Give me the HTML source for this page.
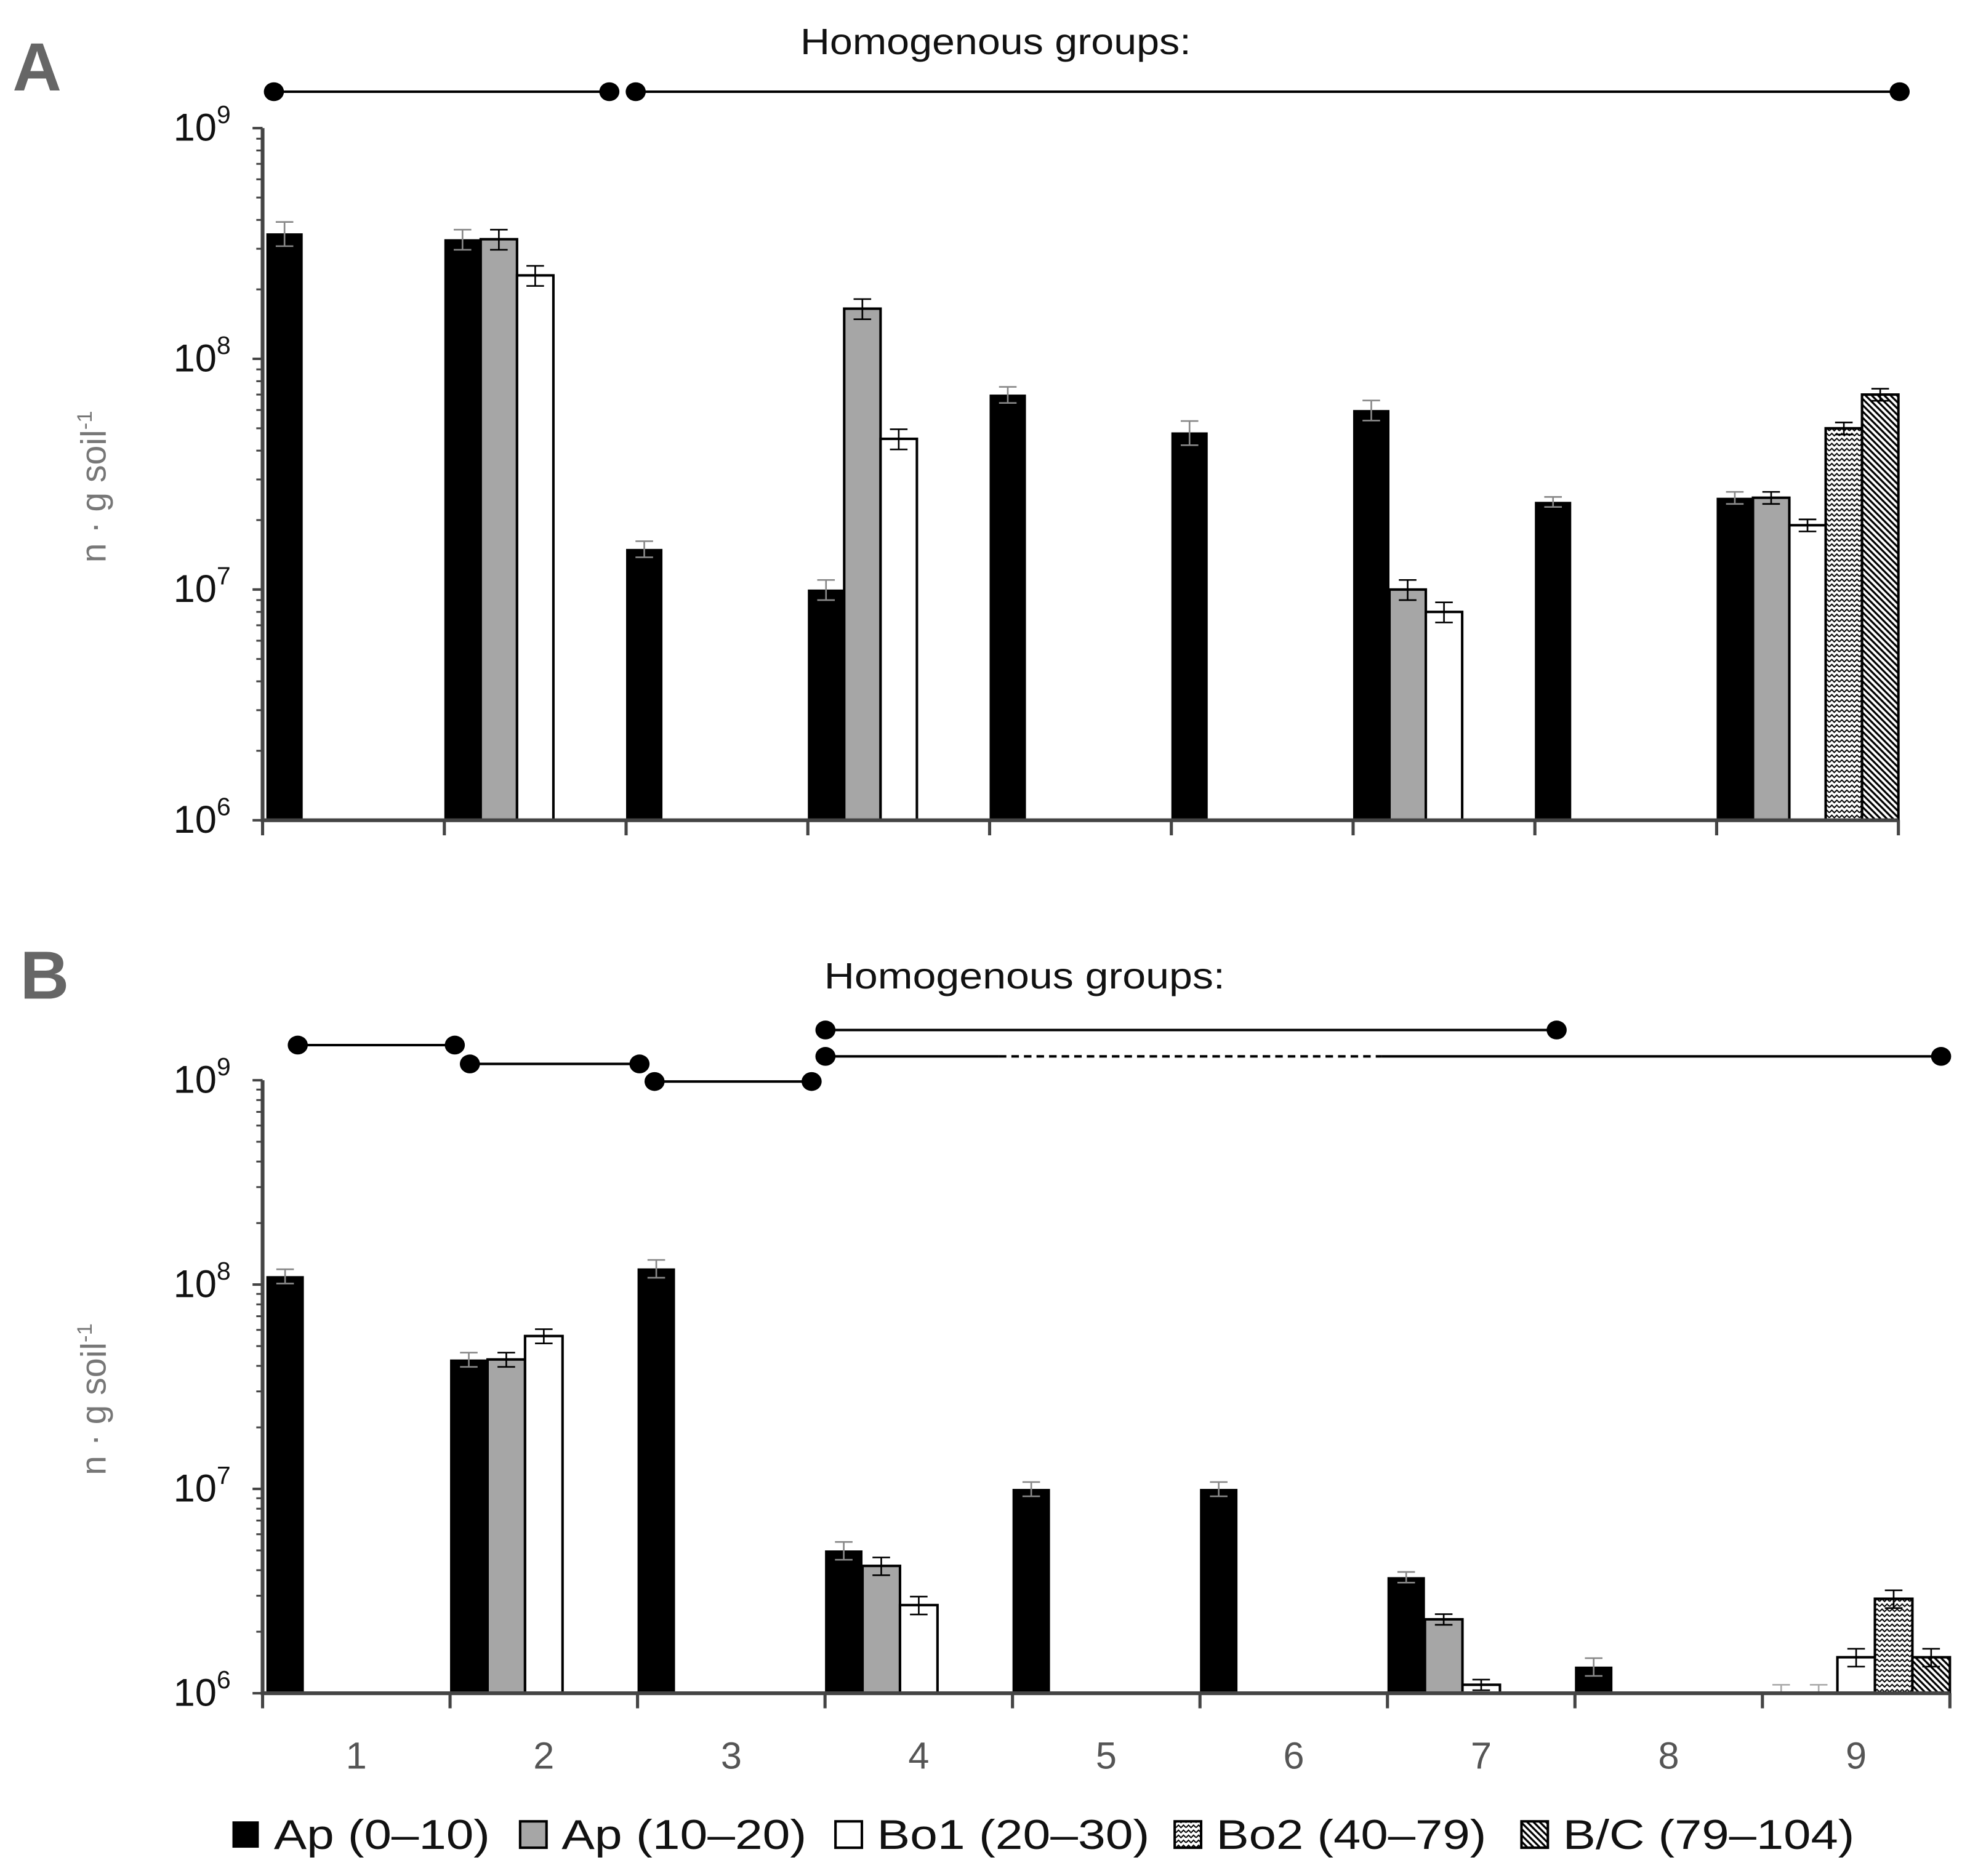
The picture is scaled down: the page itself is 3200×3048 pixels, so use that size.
<!DOCTYPE html>
<html><head><meta charset="utf-8">
<style>
html,body{margin:0;padding:0;background:#fff;}
svg{display:block;}
text{font-family:"Liberation Sans","DejaVu Sans",sans-serif;}
</style></head>
<body>
<svg id="chart" width="3200" height="3048" viewBox="0 0 1568 1493.5" xmlns="http://www.w3.org/2000/svg">
<defs>
<pattern id="zig" width="8" height="8" patternUnits="userSpaceOnUse">
<rect width="8" height="8" fill="#fff"/>
<path d="M0 3 L2 1 L4 3 L6 1 L8 3 M0 7 L2 5 L4 7 L6 5 L8 7" stroke="#000" stroke-width="1" fill="none"/>
</pattern>
<pattern id="diag" width="5" height="5" patternUnits="userSpaceOnUse">
<rect width="5" height="5" fill="#fff"/>
<path d="M-1 -1 L6 6 M-1 4 L1 6 M4 -1 L6 1" stroke="#000" stroke-width="1.6"/>
</pattern>
</defs>
<g id="root"></g>
</svg>
<script>
const groups = ["1","2","3","4","5","6","7","8","9"];
const seriesNames = ["Ap (0–10)","Ap (10–20)","Bo1 (20–30)","Bo2 (40–79)","B/C (79–104)"];
// Panel A values (null = no bar)
const aAp010 = [3.5e8,3.3e8,1.5e7,1.0e7,7.0e7,4.8e7,6.0e7,2.4e7,2.5e7];
const aAp1020 = [null,3.3e8,null,1.65e8,null,null,1.0e7,null,2.5e7];
const aBo1 = [null,2.3e8,null,4.5e7,null,null,8.0e6,null,1.9e7];
const aBo2 = [null,null,null,null,null,null,null,null,5.0e7];
const aBC = [null,null,null,null,null,null,null,null,7.0e7];
const aErr = [0.12,0.1,0.08,0.1,0.08,0.12,0.1,0.05,0.06];
// Panel B values
const bAp010 = [1.1e8,4.3e7,1.2e8,5.0e6,1.0e7,1.0e7,3.7e6,1.35e6,1.0e6];
const bAp1020 = [null,4.3e7,null,4.2e6,null,null,2.3e6,null,1.0e6];
const bBo1 = [null,5.6e7,null,2.7e6,null,null,1.1e6,null,1.5e6];
const bBo2 = [null,null,null,null,null,null,null,null,2.9e6];
const bBC = [null,null,null,null,null,null,null,null,1.5e6];
const bErr = [0.08,0.08,0.1,0.1,0.08,0.08,0.06,0.1,0.1];
const yTickExps = [6,7,8,9];

const NS="http://www.w3.org/2000/svg";
const root=document.getElementById('root');
function mk(tag,attrs,parent){const e=document.createElementNS(NS,tag);for(const k in attrs)e.setAttribute(k,attrs[k]);(parent||root).appendChild(e);return e;}
const fills=["#000","#a6a6a6","#fff","url(#zig)","url(#diag)"];

function panel(cfg){
  const g=mk('g',{});
  
  
  const gw=(cfg.x1-cfg.x0)/groups.length, bw=gw/5;
  const dec=(cfg.yBot-cfg.yTop)/3;
  const y=v=>cfg.yTop+(9-Math.log10(v))*dec;
  const xg=i=>cfg.x0+i*gw;
  cfg.series.forEach((arr,s)=>{
    arr.forEach((v,i)=>{
      if(v==null)return;
      const x=xg(i)+s*bw+(i===0?3:0);
      const yy=y(v);
      if(v>1e6){
        const r=mk('rect',{x:x,y:yy,width:bw,height:cfg.yBot-yy,fill:fills[s],stroke:'#000','stroke-width':s===0?0:2},g);
        
        
      }
      const e=cfg.err[i], cx=x+bw/2;
      const yh=y(v*(1+e)), yl=Math.min(y(v*(1-e)),cfg.yBot);
      const eb=mk('path',{d:`M${cx} ${yh} V${yl} M${cx-7} ${yh} H${cx+7} M${cx-7} ${yl} H${cx+7}`,stroke:v>1e6?(s===0?'#888':'#000'):'#aaa','stroke-width':1.3,fill:'none'},g);
      
      
    });
  });
  const ax=mk('path',{d:`M${cfg.x0} ${cfg.yTop} V${cfg.yBot} H${cfg.x1}`,stroke:'#444','stroke-width':3,fill:'none'},g);
  
  
  for(let i=0;i<=groups.length;i++){
    mk('line',{x1:xg(i),x2:xg(i),y1:cfg.yBot,y2:cfg.yBot+12,stroke:'#444','stroke-width':2.5},g);
  }
  yTickExps.forEach(ex=>{
    const yy=y(Math.pow(10,ex));
    mk('line',{x1:cfg.x0-8,x2:cfg.x0,y1:yy,y2:yy,stroke:'#444','stroke-width':2},g);
    if(ex<9){for(let m=2;m<10;m++){const ym=y(m*Math.pow(10,ex));mk('line',{x1:cfg.x0-5,x2:cfg.x0,y1:ym,y2:ym,stroke:'#444','stroke-width':1.5},g);}}
    const t=mk('text',{x:cfg.x0-71,y:yy+10,'font-size':31,fill:'#111'},g);
    t.textContent='10';
    
    
    const sp=mk('tspan',{dy:-14,'font-size':20},t);sp.textContent=String(ex);
  });
  const yt=mk('text',{transform:`translate(84 ${(cfg.yTop+cfg.yBot)/2+10}) rotate(-90)`,'text-anchor':'middle','font-size':28,fill:'#777'},g);
  
  
  yt.textContent='n · g soil';
  const ys=mk('tspan',{dy:-11,'font-size':17},yt);ys.textContent='-1';
  return {y,xg,gw};
}

const pA=panel({id:'a',name:'panel-a',x0:209,x1:1511,yTop:102,yBot:653,
  series:[aAp010,aAp1020,aBo1,aBo2,aBC],err:aErr});
const pB=panel({id:'b',name:'panel-b',x0:209,x1:1552,yTop:860,yBot:1348,
  series:[bAp010,bAp1020,bBo1,bBo2,bBC],err:bErr});

groups.forEach((gname,i)=>{
  const t=mk('text',{x:pB.xg(i)+pB.gw/2,y:1408,'text-anchor':'middle','font-size':30,fill:'#555'});
  
  
  t.textContent=gname;
});

function txt(s,x,y,size,fill,name,weight,len){const t=mk('text',{x,y,'font-size':size,fill,'font-weight':weight||'normal'});if(len){t.setAttribute('textLength',len);t.setAttribute('lengthAdjust','spacingAndGlyphs');}t.textContent=s;return t;}
txt('A',10,72,54,'#666','panel-label-a','bold');
txt('B',16,795,54,'#666','panel-label-b','bold');
txt('Homogenous groups:',637,43,29,'#111','groups-title-a',null,311);
txt('Homogenous groups:',656,787,29,'#111','groups-title-b',null,319);

function grp(x1,x2,yy,dash){
  const g=mk('g',{});
  
  
  if(dash){
    mk('line',{x1:x1,x2:dash[0],y1:yy,y2:yy,stroke:'#000','stroke-width':2},g);
    mk('line',{x1:dash[0],x2:dash[1],y1:yy,y2:yy,stroke:'#000','stroke-width':2,'stroke-dasharray':'6 4'},g);
    mk('line',{x1:dash[1],x2:x2,y1:yy,y2:yy,stroke:'#000','stroke-width':2},g);
  } else mk('line',{x1,x2,y1:yy,y2:yy,stroke:'#000','stroke-width':2},g);
  mk('ellipse',{cx:x1,cy:yy,rx:8,ry:7.5,fill:'#000'},g);
  mk('ellipse',{cx:x2,cy:yy,rx:8,ry:7.5,fill:'#000'},g);
}
grp(218,485,73);grp(506,1512,73);
grp(237,362,832);grp(374,509,847);grp(521,646,861);
grp(657,1239,820);grp(657,1545,841,[795,1100]);

const legX=[183,412,663,933,1209];
const legLen=[172,195,217,215,232];
seriesNames.forEach((n,i)=>{
  const g=mk('g',{});
  
  
  mk('rect',{x:legX[i]+2,y:1450,width:21,height:21,fill:fills[i],stroke:'#000','stroke-width':i===0?0:2},g);
  const t=mk('text',{x:legX[i]+35,y:1472,'font-size':33,fill:'#111',textLength:legLen[i],lengthAdjust:'spacingAndGlyphs'},g);
  t.textContent=n;
});
</script>
</body></html>
